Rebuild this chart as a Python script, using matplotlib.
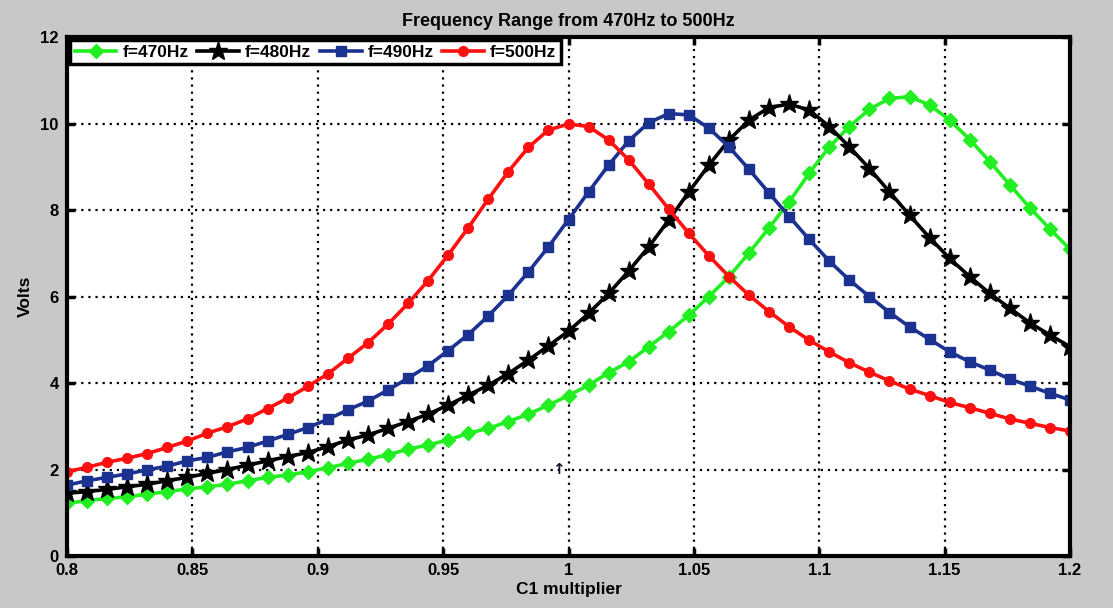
import matplotlib
matplotlib.use('Agg')

import matplotlib.pyplot as plt
import numpy as np

# C1 multiplier, 51 samples from 0.8 to 1.2
c1 = np.linspace(0.8, 1.2, 51)

# Volts
v470 = [1.22, 1.28, 1.33, 1.37, 1.43, 1.49, 1.55, 1.60, 1.66, 1.74,
        1.82, 1.87, 1.95, 2.04, 2.14, 2.24, 2.34, 2.47, 2.57, 2.68,
        2.84, 2.95, 3.11, 3.28, 3.49, 3.71, 3.95, 4.24, 4.49, 4.84,
        5.19, 5.57, 6.00, 6.46, 7.01, 7.59, 8.19, 8.85, 9.46, 9.93,
        10.33, 10.58, 10.62, 10.43, 10.08, 9.63, 9.12, 8.58, 8.05, 7.56,
        7.09]
v480 = [1.45, 1.49, 1.54, 1.60, 1.66, 1.74, 1.82, 1.91, 2.00, 2.10,
        2.20, 2.30, 2.39, 2.53, 2.68, 2.80, 2.95, 3.11, 3.28, 3.49,
        3.72, 3.95, 4.22, 4.53, 4.86, 5.20, 5.61, 6.07, 6.59, 7.15,
        7.77, 8.42, 9.04, 9.62, 10.08, 10.37, 10.45, 10.31, 9.93, 9.46,
        8.96, 8.42, 7.88, 7.36, 6.88, 6.46, 6.07, 5.73, 5.39, 5.11,
        4.84]
v490 = [1.64, 1.74, 1.82, 1.90, 1.99, 2.08, 2.20, 2.28, 2.41, 2.51,
        2.66, 2.81, 2.97, 3.16, 3.38, 3.58, 3.84, 4.11, 4.40, 4.75,
        5.12, 5.55, 6.03, 6.57, 7.15, 7.78, 8.42, 9.04, 9.60, 10.02,
        10.23, 10.20, 9.89, 9.46, 8.94, 8.39, 7.85, 7.32, 6.82, 6.38,
        6.00, 5.63, 5.30, 5.01, 4.72, 4.49, 4.30, 4.09, 3.93, 3.76,
        3.61]
v500 = [1.95, 2.05, 2.17, 2.26, 2.37, 2.51, 2.66, 2.84, 2.99, 3.17,
        3.41, 3.65, 3.92, 4.21, 4.57, 4.93, 5.36, 5.84, 6.37, 6.96,
        7.59, 8.25, 8.89, 9.45, 9.85, 9.99, 9.93, 9.62, 9.16, 8.60,
        8.02, 7.46, 6.94, 6.46, 6.03, 5.65, 5.30, 4.99, 4.72, 4.47,
        4.25, 4.05, 3.86, 3.71, 3.55, 3.43, 3.30, 3.17, 3.07, 2.97,
        2.89]

labels = ['f=470Hz', 'f=480Hz', 'f=490Hz', 'f=500Hz']
xticks = [0.8, 0.85, 0.9, 0.95, 1.0, 1.05, 1.1, 1.15, 1.2]
xticklabels = ['0.8', '0.85', '0.9', '0.95', '1', '1.05', '1.1', '1.15', '1.2']
yticks = [0, 2, 4, 6, 8, 10, 12]

plt.rcParams['font.family'] = ['Liberation Sans', 'DejaVu Sans']
plt.rcParams['font.weight'] = 'bold'

fig = plt.figure(figsize=(11.13, 6.08), dpi=100, facecolor='#c8c8c8')
ax = fig.add_axes([0.0602, 0.0855, 0.9012, 0.8536])
ax.set_facecolor('white')

ax.plot(c1, v470, color='#22ee22', lw=2.6, marker='D', ms=7, label=labels[0])
ax.plot(c1, v480, color='black', lw=2.6, marker='*', ms=14, label=labels[1])
ax.plot(c1, v490, color='#1c3290', lw=2.6, marker='s', ms=7.5, label=labels[2])
ax.plot(c1, v500, color='#ff1010', lw=2.6, marker='o', ms=7, label=labels[3])

ax.set_xlim(0.8, 1.2)
ax.set_ylim(0, 12)
ax.set_xticks(xticks)
ax.set_xticklabels(xticklabels)
ax.set_yticks(yticks)
ax.grid(True, color='black', linestyle=(0, (1, 2.2)), lw=1.6)
ax.tick_params(direction='in', length=6, width=2.5, labelsize=12,
               top=True, right=True)
ax.tick_params(axis='x', pad=5)
ax.tick_params(axis='y', pad=6)
for s in ax.spines.values():
    s.set_linewidth(3)

ax.set_title('Frequency Range from 470Hz to 500Hz', fontsize=13,
             fontweight='bold', pad=8)
ax.set_xlabel('C1 multiplier', fontsize=12.5, fontweight='bold', labelpad=3)
ax.set_ylabel('Volts', fontsize=12.5, fontweight='bold', labelpad=5)

# stray cursor arrow seen in the original screenshot
ax.text(0.9958, 2.0, '\u2191', fontsize=11, color='#111133',
        ha='center', va='center', family='DejaVu Sans')

leg = ax.legend(loc='upper left', ncol=4, frameon=True, fancybox=False,
                fontsize=12.5, handlelength=2.4, handletextpad=0.35,
                columnspacing=0.5, borderpad=0.25, borderaxespad=0.2,
                edgecolor='black', framealpha=1)
leg.get_frame().set_linewidth(2.5)

plt.savefig('out.png', dpi=100, facecolor=fig.get_facecolor())
